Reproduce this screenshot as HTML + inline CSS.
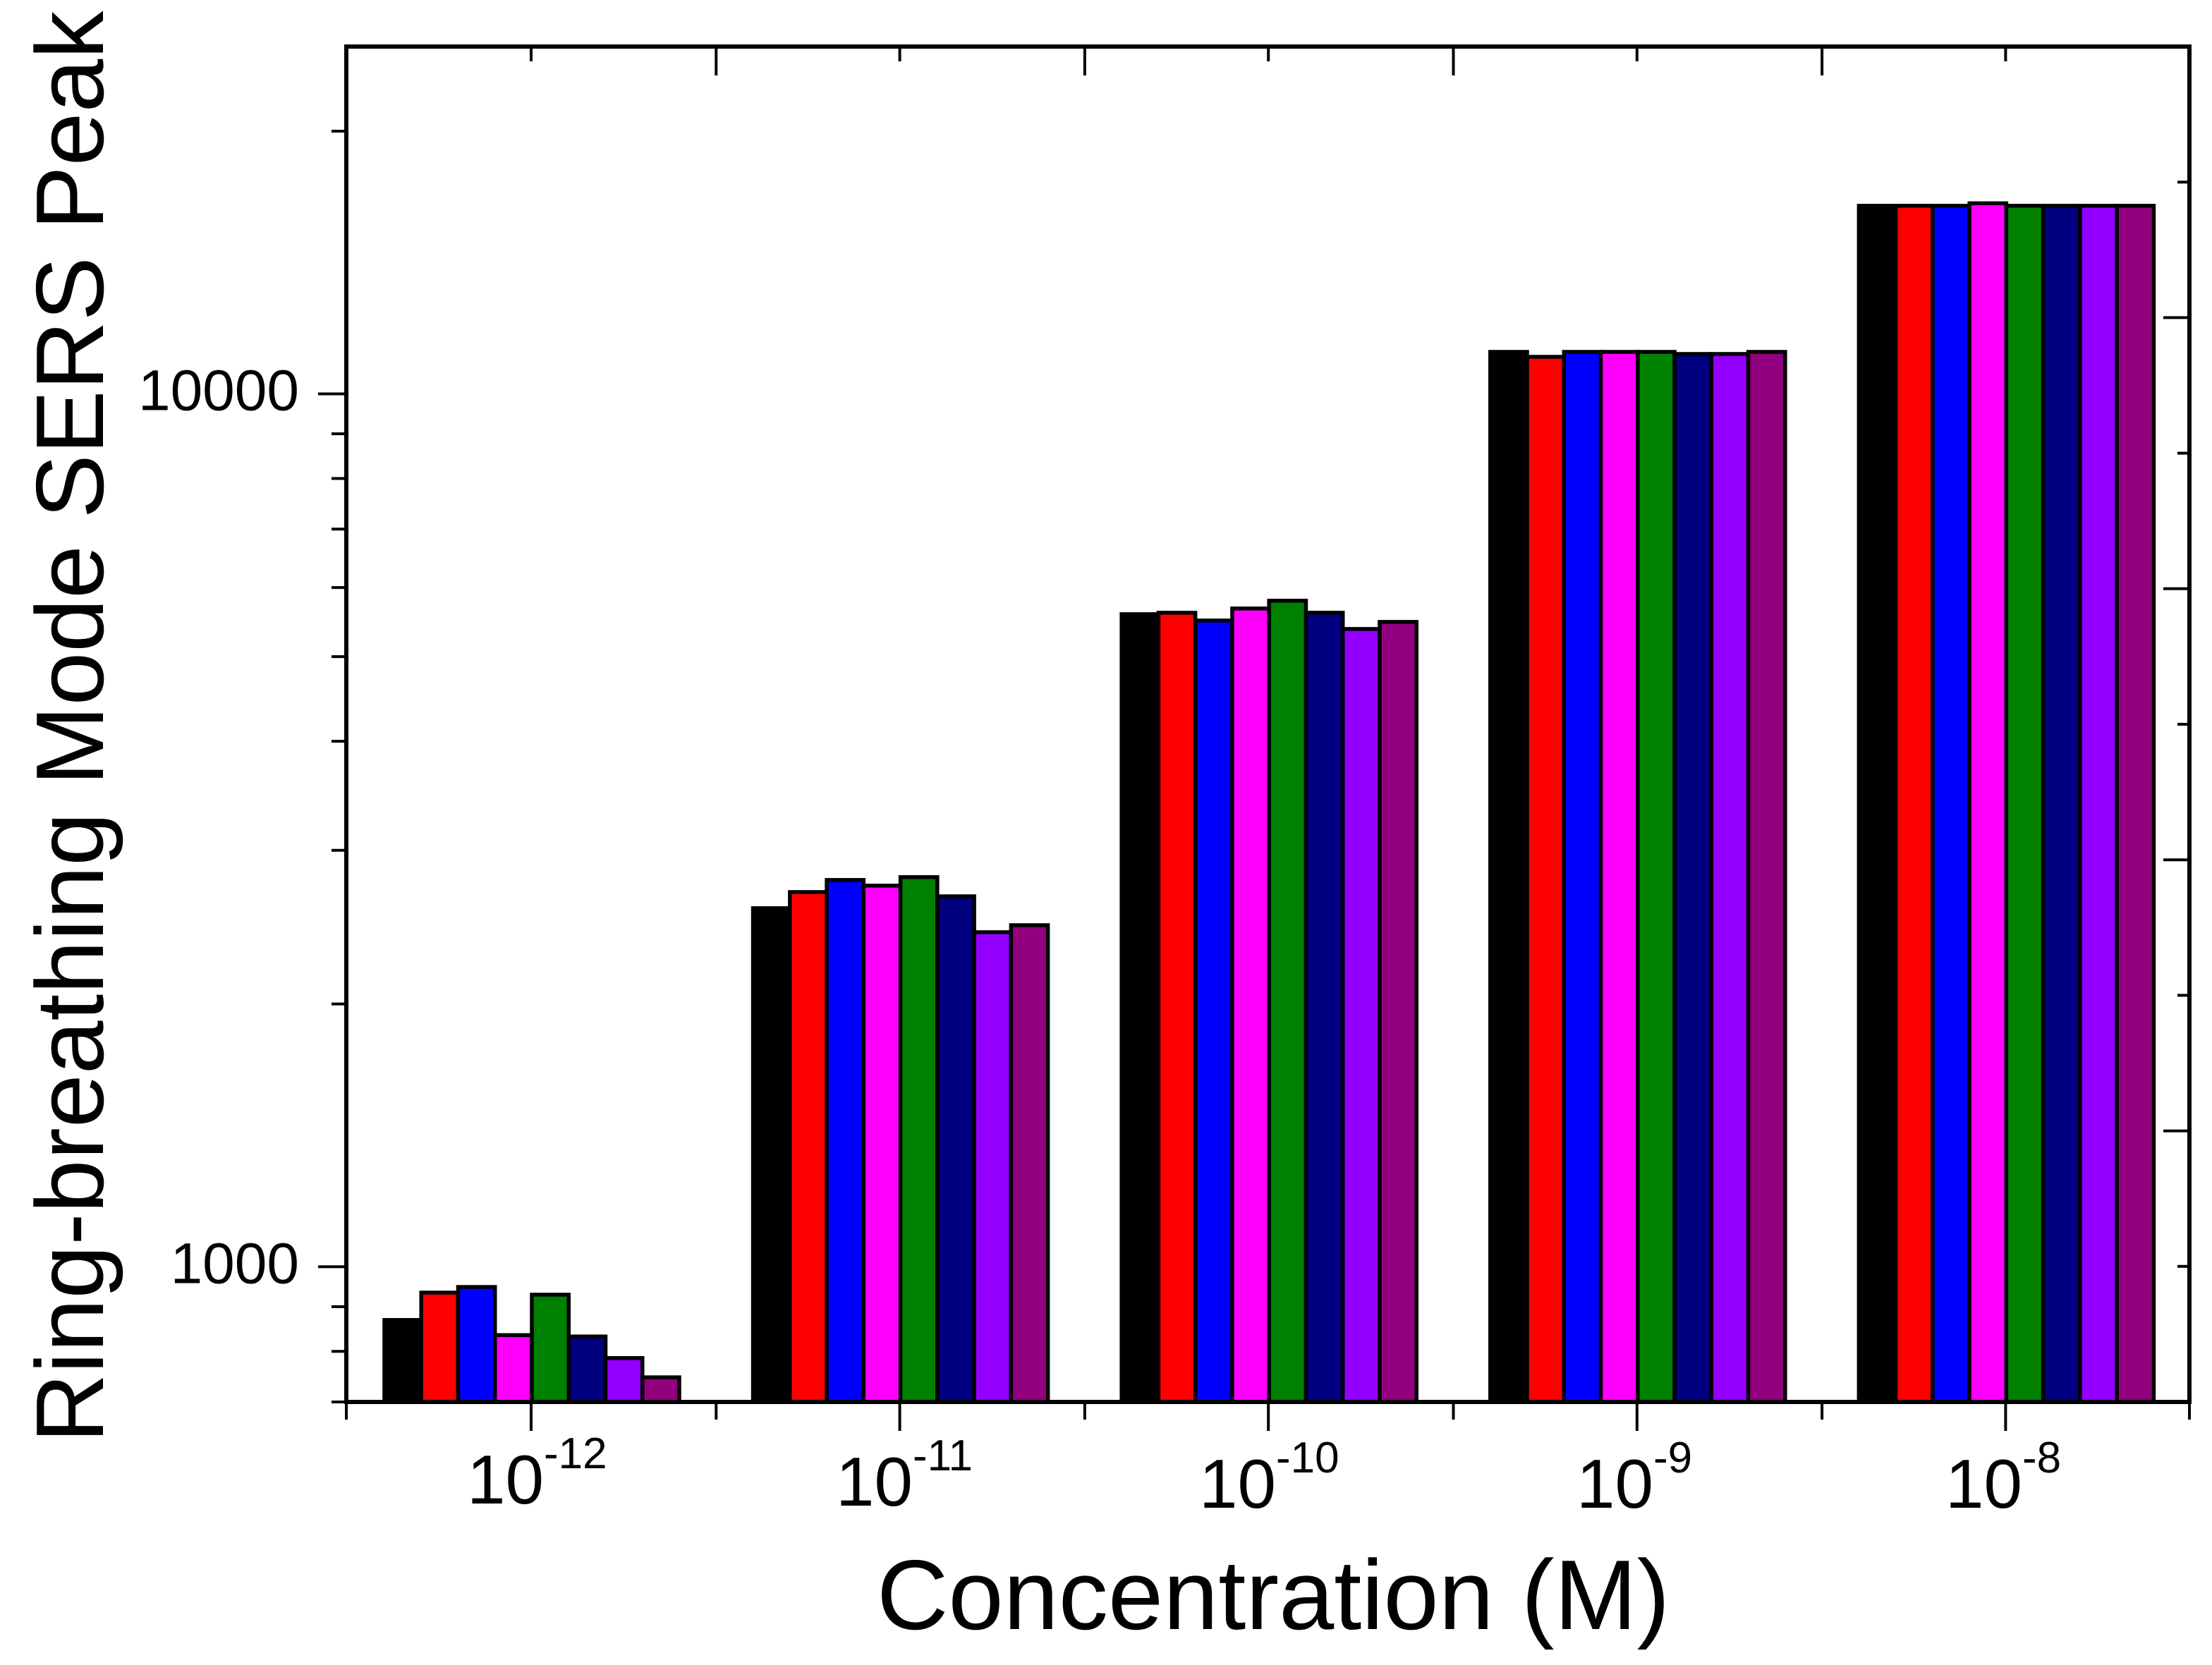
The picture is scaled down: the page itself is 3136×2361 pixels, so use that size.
<!DOCTYPE html>
<html lang="en">
<head>
<meta charset="utf-8">
<title>Ring-breathing Mode SERS Peak vs Concentration</title>
<style>
html,body{margin:0;padding:0;background:#fff;}
svg{display:block;}
text{font-family:"Liberation Sans",Arial,sans-serif;fill:#000;}
</style>
</head>
<body>
<svg id="chart" xmlns="http://www.w3.org/2000/svg" width="3136" height="2361" viewBox="0 0 3136 2361">
  <rect x="0" y="0" width="3136" height="2361" fill="#fff"/>
  <g id="bars"></g>
  <g id="ticks"></g>
  <rect x="491" y="66" width="2613" height="1922" fill="none" stroke="#000" stroke-width="6"/>
  <g id="ylabels"></g>
  <g font-size="98">
    <text x="662" y="2132">10<tspan font-size="62" dy="-50">-12</tspan></text>
    <text x="1185" y="2135">10<tspan font-size="62" dy="-50">-11</tspan></text>
    <text x="1700" y="2138">10<tspan font-size="62" dy="-50">-10</tspan></text>
    <text x="2235" y="2138">10<tspan font-size="62" dy="-50">-9</tspan></text>
    <text x="2758" y="2138">10<tspan font-size="62" dy="-50">-8</tspan></text>
  </g>
  <text x="1243" y="2310" font-size="140.5">Concentration (M)</text>
  <text transform="translate(146,2046) rotate(-90)" font-size="136.3">Ring-breathing Mode SERS Peak</text>
</svg>
<script>
// Data
var categories = ["1e-12", "1e-11", "1e-10", "1e-9", "1e-8"];
var seriesColors = ["#000000", "#ff0000", "#0000ff", "#ff00ff", "#008000", "#000080", "#9400ff", "#92007f"];
var series1 = [869, 2575, 5593, 11172, 16426];
var series2 = [934, 2687, 5614, 11027, 16426];
var series3 = [948, 2774, 5500, 11172, 16426];
var series4 = [835, 2733, 5677, 11172, 16533];
var series5 = [929, 2795, 5795, 11172, 16426];
var series6 = [832, 2657, 5614, 11110, 16426];
var series7 = [786, 2417, 5379, 11110, 16426];
var series8 = [747, 2462, 5480, 11172, 16426];
var allSeries = [series1, series2, series3, series4, series5, series6, series7, series8];
var yLabelTicks = [10000, 1000];
var yMinorTicks = [20000, 9000, 8000, 7000, 6000, 5000, 4000, 3000, 2000, 900, 800, 700];

// Axis scales
var yMin = 700, yMax = 25000, plotTop = 66, plotBottom = 1988;
var plotLeft = 491, plotRight = 3104;
var bandStart = 492.7, bandStep = 522.6, groupFraction = 0.8;
var rightDivisions = 10;

function yScale(v) {
  return plotBottom - (plotBottom - plotTop) * (Math.log10(v) - Math.log10(yMin)) / (Math.log10(yMax) - Math.log10(yMin));
}
function xCentre(i) {
  return bandStart + bandStep * (i + 0.5);
}
function xBoundary(i) {
  return bandStart + bandStep * i;
}

var NS = "http://www.w3.org/2000/svg";
var barsG = document.getElementById("bars");
var ticksG = document.getElementById("ticks");
var labelsG = document.getElementById("ylabels");

function tick(x1, y1, x2, y2, name) {
  var l = document.createElementNS(NS, "line");
  l.setAttribute("x1", x1);
  l.setAttribute("y1", y1);
  l.setAttribute("x2", x2);
  l.setAttribute("y2", y2);
  l.setAttribute("stroke", "#000");
  l.setAttribute("stroke-width", "4");
  
  
  ticksG.appendChild(l);
}

var barWidth = bandStep * groupFraction / allSeries.length;
categories.forEach(function (cat, c) {
  var left = xCentre(c) - barWidth * allSeries.length / 2;
  allSeries.forEach(function (values, s) {
    var r = document.createElementNS(NS, "rect");
    var top = yScale(values[c]);
    r.setAttribute("x", left + s * barWidth);
    r.setAttribute("y", top);
    r.setAttribute("width", barWidth);
    r.setAttribute("height", plotBottom - top);
    r.setAttribute("fill", seriesColors[s]);
    r.setAttribute("stroke", "#000");
    r.setAttribute("stroke-width", "5.5");
    
    
    barsG.appendChild(r);
  });
});

// Left axis ticks and labels
yLabelTicks.forEach(function (v) {
  var y = yScale(v);
  tick(451, y, plotLeft, y, 'y-major-tick-' + v);
  var t = document.createElementNS(NS, "text");
  t.setAttribute("x", 424);
  t.setAttribute("y", y + 23);
  t.setAttribute("text-anchor", "end");
  t.setAttribute("font-size", "82");
  
  
  t.textContent = String(v);
  labelsG.appendChild(t);
});
yMinorTicks.forEach(function (v) {
  var y = yScale(v);
  tick(470, y, plotLeft, y, 'y-minor-tick-' + v);
});

// Right axis ticks: evenly spaced divisions, alternating long and short
for (var d = 1; d < rightDivisions; d++) {
  var ry = plotBottom - (plotBottom - plotTop) * d / rightDivisions;
  tick(d % 2 === 0 ? 3067 : 3087, ry, plotRight, ry, 'right-axis-tick-' + d);
}

// Bottom and top axis ticks
categories.forEach(function (cat, i) {
  var x = xCentre(i) - 1;
  tick(x, plotBottom, x, 2029, 'x-major-tick-' + cat);
  tick(x, plotTop, x, 87, 'top-minor-tick-' + cat);
});
for (var b = 0; b <= categories.length; b++) {
  var bx = b === 0 ? plotLeft : (b === categories.length ? plotRight : xBoundary(b));
  tick(bx, plotBottom, bx, 2013, 'x-minor-tick-' + b);
  if (b > 0 && b < categories.length) {
    tick(bx, plotTop, bx, 107, 'top-major-tick-' + b);
  }
}
</script>
</body>
</html>
